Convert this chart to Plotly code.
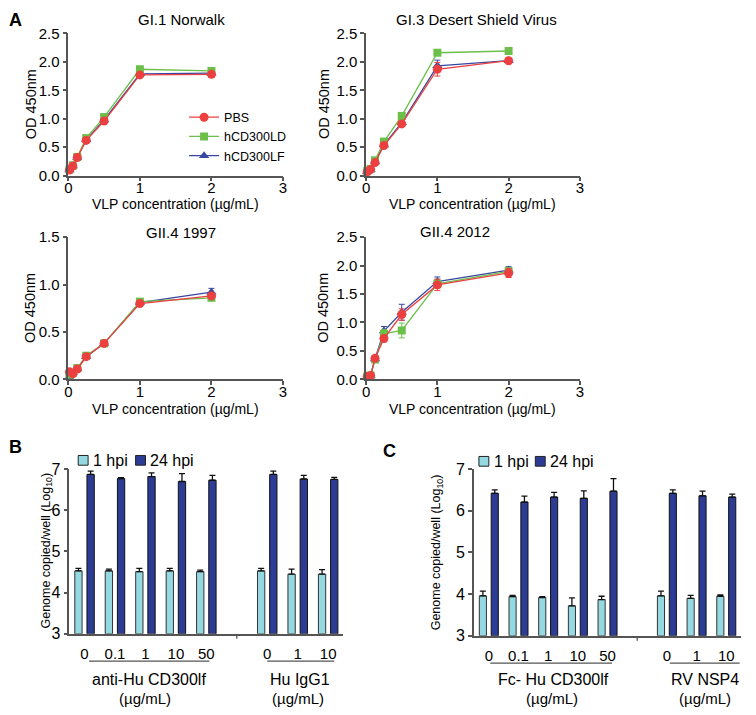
import plotly.graph_objects as go

W, H = 756, 715
FONT = "Liberation Sans, Arial, sans-serif"

# ---------------- data: panel A ----------------
conc = [0.0156, 0.0625, 0.125, 0.25, 0.5, 1, 2]
series_names = ["PBS", "hCD300LD", "hCD300LF"]

gi1_pbs = [0.10, 0.17, 0.32, 0.62, 0.96, 1.77, 1.78]
gi1_ld = [0.11, 0.18, 0.33, 0.66, 1.03, 1.87, 1.84]
gi1_lf = [0.10, 0.17, 0.32, 0.63, 0.98, 1.79, 1.80]
gi1_pbs_err = [0.02, 0.02, 0.02, 0.03, 0.03, 0.03, 0.05]
gi1_ld_err = [0.02, 0.02, 0.02, 0.03, 0.03, 0.03, 0.06]
gi1_lf_err = [0.02, 0.02, 0.02, 0.02, 0.02, 0.03, 0.04]

gi3_pbs = [0.07, 0.11, 0.23, 0.53, 0.91, 1.87, 2.02]
gi3_ld = [0.08, 0.12, 0.27, 0.60, 1.05, 2.16, 2.19]
gi3_lf = [0.07, 0.11, 0.24, 0.54, 0.93, 1.93, 2.02]
gi3_pbs_err = [0.01, 0.02, 0.02, 0.03, 0.03, 0.12, 0.03]
gi3_ld_err = [0.01, 0.02, 0.02, 0.03, 0.03, 0.03, 0.03]
gi3_lf_err = [0.01, 0.02, 0.02, 0.03, 0.03, 0.10, 0.03]

g97_pbs = [0.08, 0.06, 0.11, 0.24, 0.38, 0.80, 0.88]
g97_ld = [0.05, 0.07, 0.12, 0.25, 0.38, 0.82, 0.86]
g97_lf = [0.02, 0.07, 0.11, 0.24, 0.38, 0.81, 0.92]
g97_pbs_err = [0.01, 0.01, 0.01, 0.01, 0.01, 0.02, 0.02]
g97_ld_err = [0.01, 0.01, 0.01, 0.01, 0.01, 0.02, 0.02]
g97_lf_err = [0.01, 0.01, 0.01, 0.01, 0.01, 0.02, 0.04]

g12_pbs = [0.05, 0.07, 0.37, 0.72, 1.14, 1.66, 1.87]
g12_ld = [0.05, 0.07, 0.35, 0.80, 0.86, 1.68, 1.90]
g12_lf = [0.05, 0.07, 0.36, 0.85, 1.18, 1.72, 1.92]
g12_pbs_err = [0.01, 0.01, 0.03, 0.06, 0.10, 0.10, 0.08]
g12_ld_err = [0.01, 0.01, 0.03, 0.08, 0.13, 0.08, 0.06]
g12_lf_err = [0.01, 0.01, 0.03, 0.08, 0.14, 0.08, 0.06]

# ---------------- data: panels B, C ----------------
bar_pos = [0, 1, 2, 3, 4, 6, 7, 8]
bar_labels = ["0", "0.1", "1", "10", "50", "0", "1", "10"]
hpi_names = ["1 hpi", "24 hpi"]

b_1hpi = [4.53, 4.53, 4.51, 4.53, 4.51, 4.53, 4.45, 4.45]
b_1hpi_err = [0.06, 0.04, 0.08, 0.06, 0.04, 0.06, 0.12, 0.11]
b_24hpi = [6.87, 6.77, 6.82, 6.70, 6.73, 6.87, 6.76, 6.75]
b_24hpi_err = [0.08, 0.02, 0.09, 0.19, 0.12, 0.08, 0.09, 0.05]

c_1hpi = [3.96, 3.94, 3.92, 3.72, 3.87, 3.96, 3.90, 3.95]
c_1hpi_err = [0.11, 0.03, 0.02, 0.19, 0.08, 0.11, 0.07, 0.03]
c_24hpi = [6.42, 6.21, 6.33, 6.30, 6.47, 6.42, 6.36, 6.33]
c_24hpi_err = [0.08, 0.14, 0.11, 0.18, 0.30, 0.08, 0.11, 0.07]

# ---------------- styling ----------------
RED = "#ec4040"
GREEN = "#6cc04a"
BLUE = "#3848a0"
LIGHT = "#94d9e1"
DARK = "#2c3c94"
AXC = "#555555"


def px(p):
    return p / W


def py(p):
    return 1 - p / H


fig = go.Figure()

line_panels = [
    ("", (gi1_pbs, gi1_ld, gi1_lf), (gi1_pbs_err, gi1_ld_err, gi1_lf_err)),
    ("2", (gi3_pbs, gi3_ld, gi3_lf), (gi3_pbs_err, gi3_ld_err, gi3_lf_err)),
    ("3", (g97_pbs, g97_ld, g97_lf), (g97_pbs_err, g97_ld_err, g97_lf_err)),
    ("4", (g12_pbs, g12_ld, g12_lf), (g12_pbs_err, g12_ld_err, g12_lf_err)),
]
styles = [
    (RED, "circle", 9),
    (GREEN, "square", 8),
    (BLUE, "triangle-up", 9),
]
draw_order = [2, 1, 0]
for ax, vals, errs in line_panels:
    for i in draw_order:
        color, sym, sz = styles[i]
        fig.add_trace(go.Scatter(
            x=conc, y=vals[i], mode="lines+markers",
            name=series_names[i],
            line=dict(color=color, width=1.3),
            marker=dict(color=color, symbol=sym, size=sz),
            error_y=dict(type="data", array=errs[i], color=color, thickness=1, width=3),
            xaxis="x" + ax, yaxis="y" + ax,
            showlegend=(ax == ""), legendrank=i + 1,
            cliponaxis=False,
        ))

# bar panels
for ax, d1, e1, d24, e24 in [
    ("5", b_1hpi, b_1hpi_err, b_24hpi, b_24hpi_err),
    ("6", c_1hpi, c_1hpi_err, c_24hpi, c_24hpi_err),
]:
    fig.add_trace(go.Bar(
        x=bar_pos, y=[v - 3 for v in d1], base=3, name=hpi_names[0],
        marker=dict(color=LIGHT, line=dict(color="#333333", width=1)),
        width=0.24, offset=-0.32,
        error_y=dict(type="data", symmetric=False, array=e1,
                     arrayminus=[0] * len(e1), color="#111111", thickness=1.3, width=3),
        xaxis="x" + ax, yaxis="y" + ax, showlegend=False,
    ))
    fig.add_trace(go.Bar(
        x=bar_pos, y=[v - 3 for v in d24], base=3, name=hpi_names[1],
        marker=dict(color=DARK, line=dict(color="#111111", width=1)),
        width=0.24, offset=0.08,
        error_y=dict(type="data", symmetric=False, array=e24,
                     arrayminus=[0] * len(e24), color="#111111", thickness=1.3, width=3),
        xaxis="x" + ax, yaxis="y" + ax, showlegend=False,
    ))

common = dict(showline=True, linecolor=AXC, linewidth=1.5, ticks="outside",
              ticklen=4, tickwidth=1.5, tickcolor=AXC, showgrid=False,
              zeroline=False, tickfont=dict(size=15, color="black", family=FONT))

layout = dict(
    width=W, height=H, margin=dict(l=0, r=0, t=0, b=0),
    paper_bgcolor="white", plot_bgcolor="white",
    font=dict(family=FONT, color="black"),
    barmode="overlay",
)

# panel geometry (pixels): x at value 0, x at value 3; ybottom, ytop
geo = {
    "": (65, 282, 171, 25, 2.5),
    "2": (366, 582, 171, 25, 2.5),
    "3": (65, 282, 380, 234, 1.5),
    "4": (366, 582, 380, 234, 2.5),
}
for ax, (x0, x1, yb, yt, ymax) in geo.items():
    layout["xaxis" + ax] = dict(common, domain=[px(x0), px(x1)], range=[0, 3],
                                tickvals=[0, 1, 2, 3], anchor="y" + ax, ticklen=4,
                                ticklabelstandoff=-6)
    layout["yaxis" + ax] = dict(common, domain=[py(yb), py(yt)], range=[0, ymax],
                                dtick=0.5, tickformat=".1f", anchor="x" + ax)

bar_x = dict(common, range=[-0.5, 8.5], tickvals=bar_pos, ticktext=bar_labels,
             ticks="", ticklabelstandoff=5)
layout["xaxis5"] = dict(bar_x, domain=[px(66), px(343)], anchor="y5")
layout["yaxis5"] = dict(common, domain=[py(641), py(472)], range=[3, 7],
                        dtick=1, anchor="x5", tickfont=dict(size=16, color="black", family=FONT))
layout["xaxis6"] = dict(bar_x, domain=[px(475), px(745)], anchor="y6")
layout["yaxis6"] = dict(common, domain=[py(643), py(472)], range=[3, 7],
                        dtick=1, anchor="x6", tickfont=dict(size=16, color="black", family=FONT))

layout["legend"] = dict(x=px(182), y=py(96), xanchor="left", yanchor="top",
                        font=dict(size=12.5, family=FONT), bgcolor="rgba(0,0,0,0)",
                        tracegroupgap=0, itemwidth=30)

annotations = []


def txt(x, y, s, size=14, angle=0, bold=False, anchor="center"):
    annotations.append(dict(
        x=px(x), y=py(y), xref="paper", yref="paper",
        text=("<b>%s</b>" % s if bold else s),
        showarrow=False, font=dict(size=size, family=FONT, color="black"),
        textangle=angle, xanchor=anchor, yanchor="middle"))


# panel labels
txt(3, 11, "A", 18, bold=True, anchor="left")
txt(3, 449, "B", 18, bold=True, anchor="left")
txt(381, 453, "C", 18, bold=True, anchor="left")

# line-panel titles
txt(179, 11, "GI.1 Norwalk", 15)
txt(478, 11, "GI.3 Desert Shield Virus", 15)
txt(179, 229, "GII.4 1997", 15)
txt(456, 228, "GII.4 2012", 15)
for xc, yc in [(173, 200), (474, 200), (173, 410), (474, 410)]:
    txt(xc, yc, "VLP concentration (µg/mL)", 14)
for xc, yc in [(27, 98), (323, 98), (27, 307), (323, 307)]:
    txt(xc, yc, "OD 450nm", 14.5, angle=-90)

# bar-panel titles
txt(43, 556, "Genome copied/well (Log<sub>10</sub>)", 12.5, angle=-90)
txt(438, 557, "Genome copied/well (Log<sub>10</sub>)", 12.5, angle=-90)
txt(147, 688, "anti-Hu CD300lf", 16)
txt(143, 707, "(µg/mL)", 15)
txt(299, 688, "Hu IgG1", 16)
txt(297, 707, "(µg/mL)", 15)
txt(555, 688, "Fc- Hu CD300lf", 16)
txt(554, 707, "(µg/mL)", 15)
txt(708, 688, "RV NSP4", 16)
txt(708, 707, "(µg/mL)", 15)

shapes = []
# manual legends for B and C
for (sx, sy), color, name in [
    ((80, 463), LIGHT, hpi_names[0]), ((138, 463), DARK, hpi_names[1]),
    ((485, 464), LIGHT, hpi_names[0]), ((542, 464), DARK, hpi_names[1]),
]:
    shapes.append(dict(type="rect", xref="paper", yref="paper",
                       x0=px(sx - 5), x1=px(sx + 5), y0=py(sy + 5), y1=py(sy - 5),
                       fillcolor=color, line=dict(color="#222222", width=1)))
    txt(sx + 8, sy, name, 16, anchor="left")
layout["annotations"] = annotations

for ax, ypx, spans in [("5", 669, [(0.15, 4.1), (6.0, 8.2)]),
                       ("6", 671, [(0.05, 4.15), (6.1, 8.45)])]:
    for a, b in spans:
        shapes.append(dict(type="line", xref="x" + ax, yref="paper",
                           x0=a, x1=b, y0=py(ypx), y1=py(ypx),
                           line=dict(color=AXC, width=1.3)))
    shapes.append(dict(type="line", xref="x" + ax, yref="y%s domain" % ax,
                       x0=5, x1=5, y0=-0.005, y1=-0.03,
                       line=dict(color=AXC, width=1.3)))
layout["shapes"] = shapes

fig.update_layout(**layout)
fig.write_html(
    "out.html",
    config={"displayModeBar": False},
    post_script="document.body.style.margin='0px';document.body.style.overflow='hidden';",
)
